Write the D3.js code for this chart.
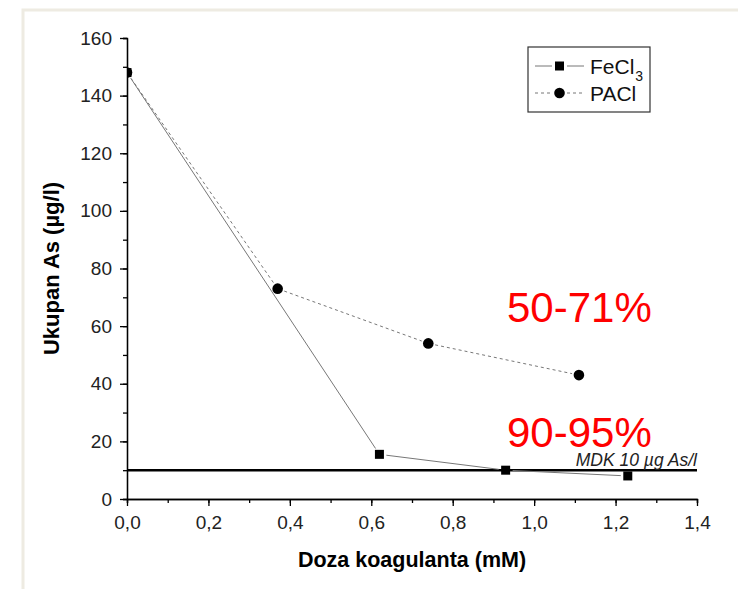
<!DOCTYPE html>
<html lang="hr">
<head>
    <meta charset="UTF-8">
    <title>Ukupan As</title>
    <script src="https://d3js.org/d3.v7.min.js"></script>
    <style>
        body { margin: 0; background: #fff; }
        svg { display: block; font-family: "Liberation Sans", Arial, sans-serif; }
    </style>
</head>
<body>
    <div id="chart"></div>

    <script>
        // data
        const doseFeCl3 = [0, 0.62, 0.93, 1.23];
        const asFeCl3 = [148, 15.5, 10, 8];
        const dosePACl = [0, 0.37, 0.74, 1.11];
        const asPACl = [148, 73, 54, 43];
        const mdkLevel = 10;
        const xTicks = [0, 0.2, 0.4, 0.6, 0.8, 1.0, 1.2, 1.4];
        const yTicks = [0, 20, 40, 60, 80, 100, 120, 140, 160];
        const notes = ["50-71%", "90-95%"];

        const width = 738;
        const height = 589;
        const margin = { top: 38, right: 41, bottom: 90, left: 127 };

        const svg = d3.select("#chart")
            .append("svg")
            .attr("width", width)
            .attr("height", height);

        // beige page frame
        svg.append("rect")
            .attr("x", 23).attr("y", 10)
            .attr("width", width).attr("height", height)
            .attr("fill", "none")
            .attr("stroke", "#eeebe2")
            .attr("stroke-width", 3);

        const x = d3.scaleLinear()
            .domain([0, 1.4])
            .range([margin.left, width - margin.right]);

        const y = d3.scaleLinear()
            .domain([0, 160])
            .range([height - margin.bottom, margin.top]);

        svg.append("clipPath").attr("id", "plot")
            .append("rect")
            .attr("x", x(0)).attr("y", y(160) - 10)
            .attr("width", x(1.4) - x(0)).attr("height", y(0) - y(160) + 10);

        // axes with minor ticks
        const fmt = d => d3.format(".1f")(d).replace(".", ",");

        const xAxis = svg.append("g")
            .attr("transform", `translate(0,${y(0)})`);
        xAxis.call(d3.axisBottom(x).tickValues(d3.range(0, 1.41, 0.1)).tickSize(4).tickFormat(""));
        xAxis.call(g => g.append("g").call(d3.axisBottom(x).tickValues(xTicks).tickSize(7).tickSizeOuter(0).tickFormat(fmt)));

        const yAxis = svg.append("g")
            .attr("transform", `translate(${x(0)},0)`);
        yAxis.call(d3.axisLeft(y).tickValues(d3.range(0, 161, 10)).tickSize(4).tickFormat(""));
        yAxis.call(g => g.append("g").call(d3.axisLeft(y).tickValues(yTicks).tickSize(7).tickSizeOuter(0)));

        svg.selectAll(".domain").attr("stroke", "#000").attr("stroke-width", 1.3);
        svg.selectAll(".tick line").attr("stroke", "#000").attr("stroke-width", 1.3);
        svg.selectAll(".tick text")
            .attr("font-family", "Liberation Sans, Arial, sans-serif")
            .attr("font-size", 19)
            .attr("fill", "#222");
        xAxis.selectAll(".tick text").attr("dy", "1.05em");
        yAxis.selectAll(".tick text").attr("dx", -5);

        // axis titles
        svg.append("text")
            .attr("x", (x(0) + x(1.4)) / 2)
            .attr("y", 567)
            .attr("text-anchor", "middle")
            .attr("font-size", 21.5)
            .attr("font-weight", "bold")
            .text("Doza koagulanta (mM)");

        svg.append("text")
            .attr("transform", `translate(59,${(y(0) + y(160)) / 2}) rotate(-90)`)
            .attr("text-anchor", "middle")
            .attr("font-size", 22)
            .attr("font-weight", "bold")
            .text("Ukupan As (µg/l)");

        // MDK limit
        svg.append("line")
            .attr("x1", x(0)).attr("x2", x(1.4))
            .attr("y1", y(mdkLevel)).attr("y2", y(mdkLevel))
            .attr("stroke", "#000")
            .attr("stroke-width", 2.5);

        svg.append("text")
            .attr("x", x(1.4))
            .attr("y", y(mdkLevel) - 4)
            .attr("text-anchor", "end")
            .attr("font-size", 17.5)
            .attr("font-style", "italic")
            .attr("fill", "#222")
            .text("MDK 10 µg As/l");

        // connecting lines with a gap at each marker (Origin style)
        function gapSegments(xs, ys, gap) {
            const segs = [];
            for (let i = 0; i < xs.length - 1; i++) {
                const x1 = x(xs[i]), y1 = y(ys[i]), x2 = x(xs[i + 1]), y2 = y(ys[i + 1]);
                const len = Math.hypot(x2 - x1, y2 - y1);
                const ux = (x2 - x1) / len, uy = (y2 - y1) / len;
                segs.push([x1 + ux * gap, y1 + uy * gap, x2 - ux * gap, y2 - uy * gap]);
            }
            return segs;
        }

        const plot = svg.append("g").attr("clip-path", "url(#plot)");

        plot.selectAll(".fe-line")
            .data(gapSegments(doseFeCl3, asFeCl3, 7))
            .join("line")
            .attr("x1", d => d[0]).attr("y1", d => d[1])
            .attr("x2", d => d[2]).attr("y2", d => d[3])
            .attr("stroke", "#777")
            .attr("stroke-width", 1);

        plot.selectAll(".pa-line")
            .data(gapSegments(dosePACl, asPACl, 7))
            .join("line")
            .attr("x1", d => d[0]).attr("y1", d => d[1])
            .attr("x2", d => d[2]).attr("y2", d => d[3])
            .attr("stroke", "#777")
            .attr("stroke-width", 1)
            .attr("stroke-dasharray", "3,3");

        plot.selectAll(".fe-pt")
            .data(doseFeCl3)
            .join("rect")
            .attr("x", (d, i) => x(d) - 4.5)
            .attr("y", (d, i) => y(asFeCl3[i]) - 4.5)
            .attr("width", 9).attr("height", 9)
            .attr("fill", "#000");

        plot.selectAll(".pa-pt")
            .data(dosePACl)
            .join("circle")
            .attr("cx", d => x(d))
            .attr("cy", (d, i) => y(asPACl[i]))
            .attr("r", 5.3)
            .attr("fill", "#000");

        // red annotations
        svg.selectAll(".note")
            .data(notes)
            .join("text")
            .attr("x", 507)
            .attr("y", (d, i) => [322, 447][i])
            .attr("font-size", 42)
            .attr("fill", "#ff0000")
            .text(d => d);

        // legend
        const lg = svg.append("g").attr("transform", "translate(528,47)");
        lg.append("rect")
            .attr("width", 122).attr("height", 65)
            .attr("fill", "#fff")
            .attr("stroke", "#333")
            .attr("stroke-width", 1.2);

        const items = [
            { name: "FeCl", sub: "3", dash: null, shape: "square" },
            { name: "PACl", sub: "", dash: "3,3", shape: "circle" }
        ];
        const row = lg.selectAll(".item")
            .data(items)
            .join("g")
            .attr("transform", (d, i) => `translate(0,${19 + i * 27})`);

        row.append("line").attr("x1", 7).attr("x2", 24).attr("stroke", "#777").attr("stroke-dasharray", d => d.dash);
        row.append("line").attr("x1", 39).attr("x2", 56).attr("stroke", "#777").attr("stroke-dasharray", d => d.dash);
        row.filter(d => d.shape === "square").append("rect")
            .attr("x", 27).attr("y", -4.5).attr("width", 9).attr("height", 9).attr("fill", "#000");
        row.filter(d => d.shape === "circle").append("circle")
            .attr("cx", 31.5).attr("r", 5.3).attr("fill", "#000");

        const lt = row.append("text")
            .attr("x", 62).attr("y", 7.5)
            .attr("font-size", 21)
            .attr("fill", "#111")
            .text(d => d.name);
        lt.append("tspan")
            .attr("font-size", 14)
            .attr("dx", 1)
            .attr("dy", 7)
            .text(d => d.sub);
    </script>
</body>
</html>
